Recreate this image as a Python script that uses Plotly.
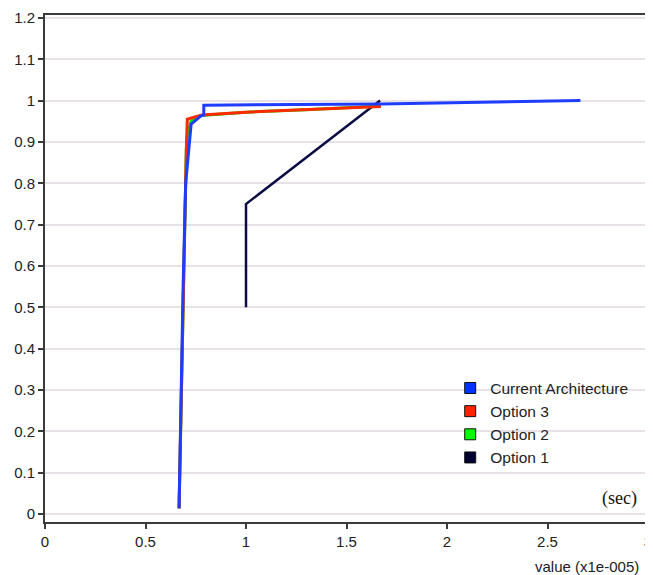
import plotly.graph_objects as go

# Series data (x in units of 1e-5 sec, y cumulative fraction)
cur_x = [0.667, 0.680, 0.687, 0.700, 0.717, 0.727, 0.776, 0.790, 0.790, 1.670, 2.664]
cur_y = [0.014, 0.400, 0.550, 0.800, 0.900, 0.943, 0.963, 0.965, 0.989, 0.992, 1.000]

opt3_x = [0.667, 0.683, 0.693, 0.703, 0.708, 0.740, 0.780, 1.000, 1.300, 1.671]
opt3_y = [0.014, 0.400, 0.700, 0.880, 0.955, 0.960, 0.965, 0.972, 0.978, 0.986]

opt2_x = [0.667, 0.683, 0.693, 0.703, 0.710, 0.727, 0.780, 1.000, 1.300, 1.671]
opt2_y = [0.014, 0.400, 0.700, 0.880, 0.930, 0.950, 0.964, 0.972, 0.978, 0.987]

opt1_x = [1.000, 1.000, 1.667]
opt1_y = [0.500, 0.750, 1.000]

series_names = ["Current Architecture", "Option 3", "Option 2", "Option 1"]
series_colors = ["#1f3dff", "#ff2a00", "#00e600", "#0c0c45"]
legend_colors = ["#0033ff", "#ff2200", "#00ff00", "#000033"]

y_ticks = [0, 0.1, 0.2, 0.3, 0.4, 0.5, 0.6, 0.7, 0.8, 0.9, 1, 1.1, 1.2]
x_ticks = [0, 0.5, 1, 1.5, 2, 2.5, 3]

fig = go.Figure()

data = {
    "Current Architecture": (cur_x, cur_y, 3),
    "Option 3": (opt3_x, opt3_y, 3),
    "Option 2": (opt2_x, opt2_y, 3),
    "Option 1": (opt1_x, opt1_y, 2.5),
}

# draw order: Option 1, Option 2, Option 3, Current Architecture on top
for name in ["Option 1", "Option 2", "Option 3", "Current Architecture"]:
    xs, ys, w = data[name]
    c = series_colors[series_names.index(name)]
    fig.add_trace(go.Scatter(x=xs, y=ys, mode="lines", name=name,
                             line=dict(color=c, width=w), showlegend=False,
                             hoverinfo="skip"))

# legend entries (square swatches)
for name, c in zip(series_names, legend_colors):
    fig.add_trace(go.Scatter(x=[None], y=[None], mode="markers", name=name,
                             marker=dict(symbol="square", size=11, color=c,
                                         line=dict(color="#111111", width=1)),
                             showlegend=True))

FONT = "Liberation Sans, Arial"
axis_common = dict(showline=True, linecolor="#3a3a3a", linewidth=2, mirror=True,
                   ticks="outside", ticklen=5, tickwidth=1.5, tickcolor="#3a3a3a",
                   tickfont=dict(family=FONT, size=15, color="#222222"),
                   ticklabeloverflow="allow", zeroline=False)

fig.update_layout(
    width=645, height=567,
    margin=dict(l=37, r=1, t=5, b=53),
    paper_bgcolor="white", plot_bgcolor="white",
    xaxis=dict(range=[0, 3], tickvals=x_ticks, ticktext=[f"{v:g}" for v in x_ticks],
               showgrid=False, **axis_common),
    yaxis=dict(range=[-0.019, 1.207], tickvals=y_ticks, ticktext=[f"{v:g}" for v in y_ticks],
               showgrid=True, gridcolor="#e8e2e8", gridwidth=1.5, **axis_common),
    legend=dict(x=0.672, y=0.297, xanchor="left", yanchor="top",
                bgcolor="rgba(255,255,255,0)", borderwidth=0,
                font=dict(family=FONT, size=15.5, color="#222222"),
                tracegroupgap=0, itemwidth=30),
    annotations=[
        dict(text="(sec)", xref="paper", yref="paper", x=0.985, y=0.047,
             xanchor="right", yanchor="middle", showarrow=False,
             font=dict(family="Liberation Serif, Times New Roman", size=18, color="#111111")),
        dict(text="value (x1e-005)", xref="paper", yref="paper", x=0.9885, y=-0.088,
             xanchor="right", yanchor="middle", showarrow=False,
             font=dict(family=FONT, size=15, color="#222222")),
    ],
)

fig.write_html("out.html")
